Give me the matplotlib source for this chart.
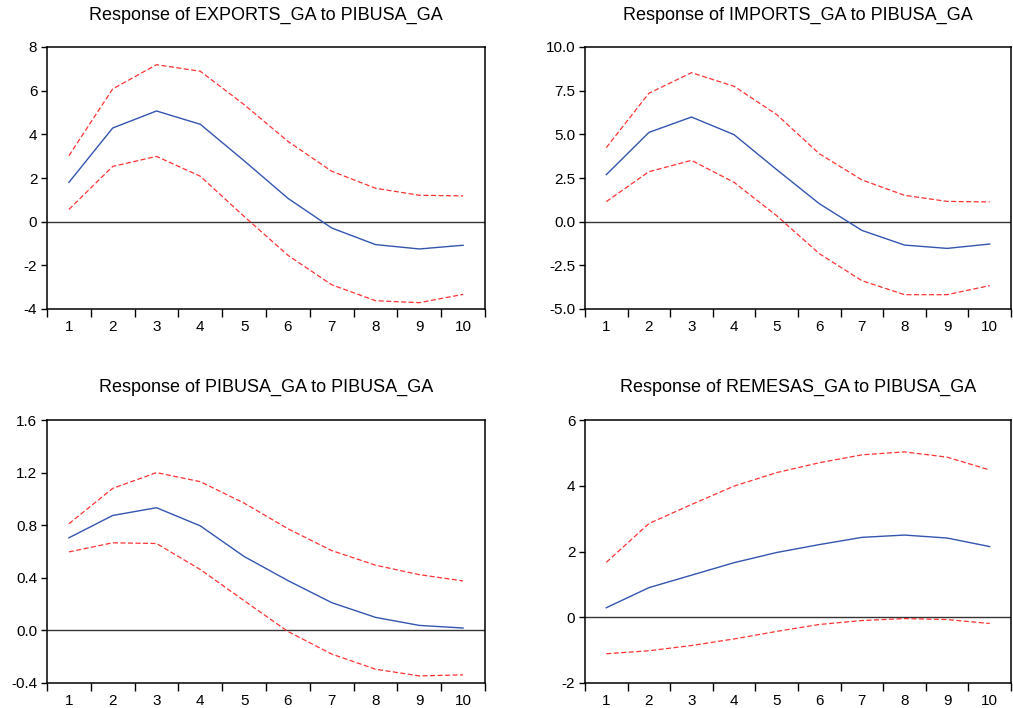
import matplotlib
matplotlib.use("Agg")
import matplotlib.pyplot as plt
import numpy as np

plt.rcParams['font.family'] = ['Liberation Sans', 'DejaVu Sans']

periods = [1, 2, 3, 4, 5, 6, 7, 8, 9, 10]

exports_resp = [1.80, 4.29, 5.07, 4.46, 2.79, 1.07, -0.29, -1.05, -1.25, -1.08]
exports_up = [3.02, 6.08, 7.19, 6.89, 5.36, 3.68, 2.31, 1.53, 1.21, 1.18]
exports_lo = [0.56, 2.53, 2.99, 2.08, 0.24, -1.54, -2.89, -3.62, -3.71, -3.33]

imports_resp = [2.69, 5.11, 5.99, 4.98, 2.98, 1.03, -0.50, -1.34, -1.53, -1.28]
imports_up = [4.24, 7.35, 8.53, 7.75, 6.13, 3.89, 2.39, 1.51, 1.16, 1.13]
imports_lo = [1.15, 2.86, 3.51, 2.25, 0.34, -1.83, -3.38, -4.18, -4.18, -3.66]

pibusa_resp = [0.704, 0.874, 0.933, 0.795, 0.562, 0.379, 0.211, 0.099, 0.038, 0.018]
pibusa_up = [0.811, 1.080, 1.200, 1.131, 0.968, 0.773, 0.607, 0.496, 0.424, 0.376]
pibusa_lo = [0.597, 0.666, 0.661, 0.463, 0.226, -0.008, -0.180, -0.295, -0.346, -0.338]

remesas_resp = [0.29, 0.90, 1.28, 1.66, 1.97, 2.21, 2.43, 2.50, 2.41, 2.15]
remesas_up = [1.67, 2.85, 3.43, 3.99, 4.40, 4.70, 4.94, 5.03, 4.87, 4.48]
remesas_lo = [-1.11, -1.02, -0.86, -0.66, -0.43, -0.22, -0.10, -0.04, -0.07, -0.19]

titles = ["Response of EXPORTS_GA to PIBUSA_GA",
          "Response of IMPORTS_GA to PIBUSA_GA",
          "Response of PIBUSA_GA to PIBUSA_GA",
          "Response of REMESAS_GA to PIBUSA_GA"]

yticks = [[-4, -2, 0, 2, 4, 6, 8],
          [-5.0, -2.5, 0.0, 2.5, 5.0, 7.5, 10.0],
          [-0.4, 0.0, 0.4, 0.8, 1.2, 1.6],
          [-2, 0, 2, 4, 6]]
yfmt = ["{:.0f}", "{:.1f}", "{:.1f}", "{:.0f}"]

series = [(exports_resp, exports_up, exports_lo),
          (imports_resp, imports_up, imports_lo),
          (pibusa_resp, pibusa_up, pibusa_lo),
          (remesas_resp, remesas_up, remesas_lo)]

W, H = 1013, 708
rects = [(47, 47, 485, 309), (585, 47, 1011, 309),
         (47, 420, 485, 683), (585, 420, 1011, 683)]

fig = plt.figure(figsize=(W / 100, H / 100), dpi=100)
fig.patch.set_facecolor('white')

blue = '#3355B0'
red = '#FF3333'

for i, (l, t, r, b) in enumerate(rects):
    ax = fig.add_axes([l / W, 1 - b / H, (r - l) / W, (b - t) / H])
    resp, up, lo = series[i]
    ax.axhline(0, color='#333333', lw=1.0, zorder=1)
    ax.plot(periods, up, color=red, lw=0.9, ls=(0, (4, 2)), zorder=2)
    ax.plot(periods, lo, color=red, lw=0.9, ls=(0, (4, 2)), zorder=2)
    ax.plot(periods, resp, color=blue, lw=1.0, zorder=3)
    ax.set_xlim(0.5, 10.5)
    yt = yticks[i]
    ax.set_ylim(yt[0], yt[-1])
    ax.set_yticks(yt)
    ax.set_yticklabels([yfmt[i].format(v) for v in yt])
    ax.set_xticks(np.arange(0.5, 11, 1.0))
    ax.set_xticklabels([])
    ax.set_xticks(periods, minor=True)
    ax.set_xticklabels([str(p) for p in periods], minor=True)
    ax.tick_params(axis='x', which='major', direction='out', length=6, width=1)
    ax.tick_params(axis='x', which='minor', length=0, pad=8, labelsize=11)
    ax.tick_params(axis='y', direction='out', length=4, width=1, labelsize=11, pad=3)
    for s in ax.spines.values():
        s.set_linewidth(1.1)
    cx = (l + r) / 2 / W
    ty = (15 if i < 2 else 387)
    fig.text(cx, 1 - ty / H, titles[i], ha='center', va='center', fontsize=13)

fig.savefig('out.png', dpi=100)
